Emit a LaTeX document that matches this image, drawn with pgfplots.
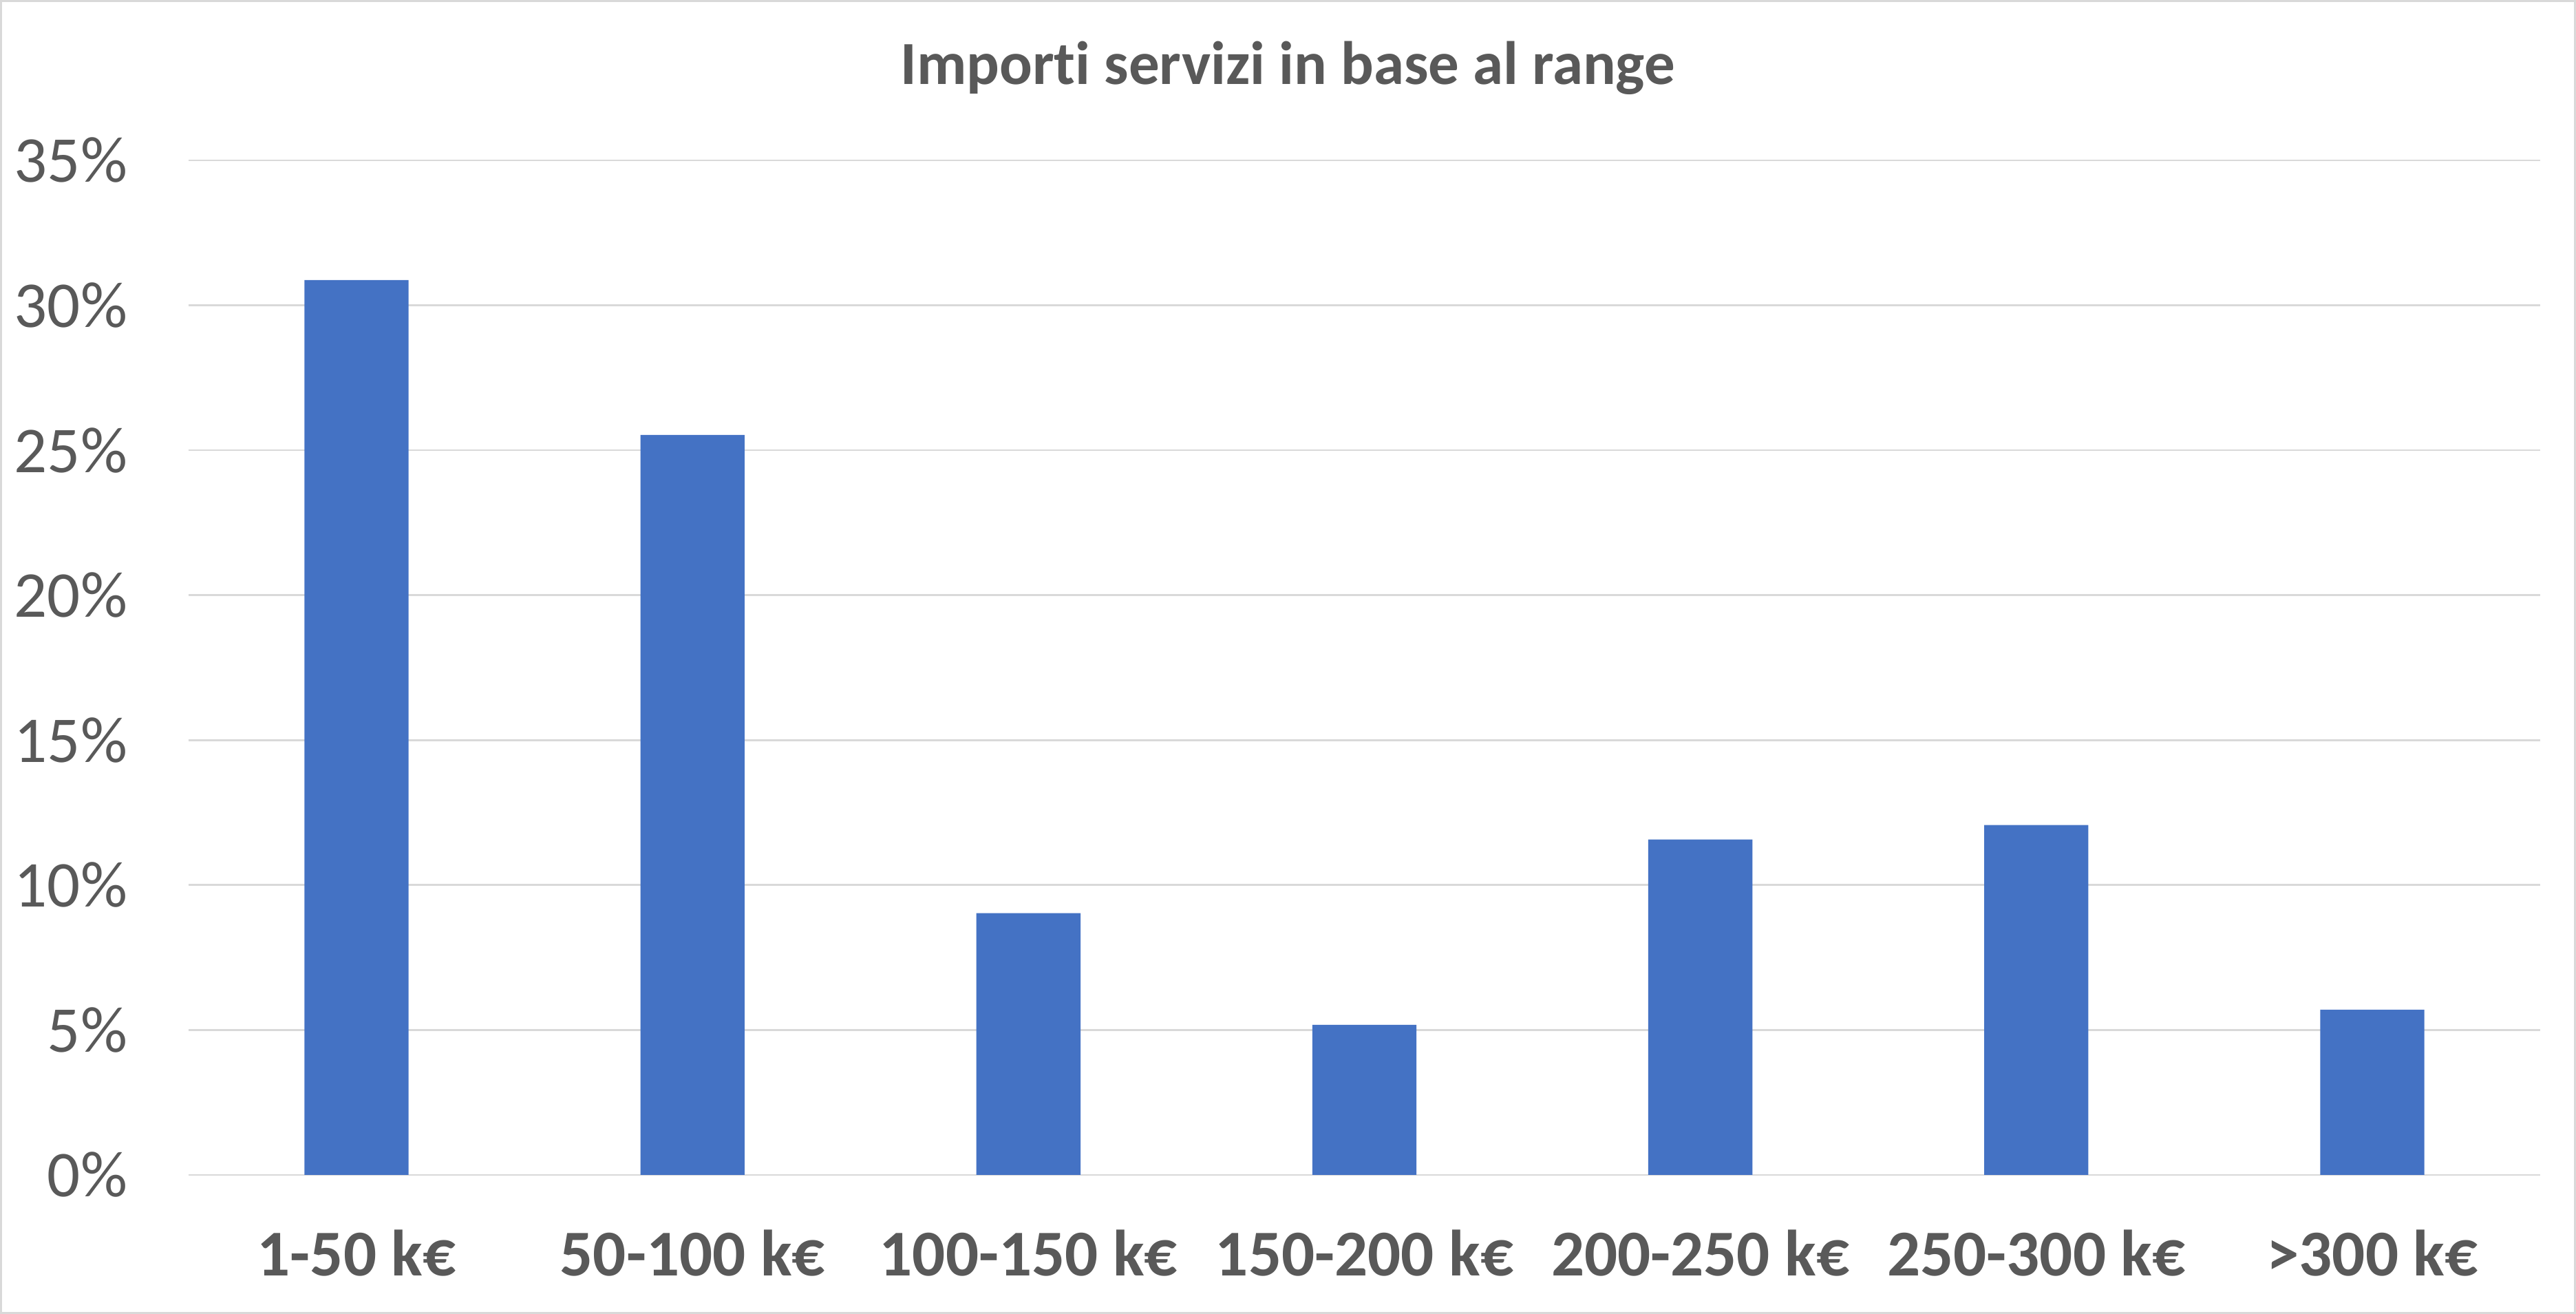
\documentclass[border=0pt]{standalone}
\usepackage{fontspec}
\setmainfont{Carlito}[Ligatures=NoCommon]
\usepackage{pgfplots}
\pgfplotsset{compat=1.18}
\definecolor{barblue}{HTML}{4472C4}
\definecolor{txtgray}{HTML}{595959}
\definecolor{gridgray}{HTML}{D9D9D9}

\begin{document}
\begin{tikzpicture}
\useasboundingbox (-54.8pt,-40.4pt) rectangle (693.8pt,341.4pt);
\draw[gridgray, line width=0.6pt] (-54.5pt,-40.1pt) rectangle (693.5pt,341.1pt);
\node[anchor=base, text=txtgray, font=\fontsize{17.8}{20}\selectfont\bfseries]
  at (319.4pt,316.8pt) {Importi servizi in base al range};
\begin{axis}[
    at={(0pt,0pt)}, anchor=south west,
    scale only axis,
    width=683.4pt, height=294.8pt,
    xmin=-0.5, xmax=6.5,
    ymin=0, ymax=35,
    xtick={0,...,6},
    xticklabels={1-50 k€,50-100 k€,100-150 k€,150-200 k€,200-250 k€,250-300 k€,>300 k€},
    ytick={0,5,...,35},
    yticklabels={0\%,5\%,10\%,15\%,20\%,25\%,30\%,35\%},
    major tick length=0pt,
    axis line style={draw=none},
    ymajorgrids=true,
    grid style={gridgray, line width=0.55pt},
    xticklabel style={anchor=base, inner sep=0pt, yshift=-29.4pt, text=txtgray,
        font=\fontsize{19}{22}\selectfont\bfseries},
    yticklabel style={anchor=east, inner sep=0pt, xshift=-17.6pt, text=txtgray,
        font=\fontsize{19}{22}\selectfont},
    ybar, bar width=0.31,
    clip=false,
]
\addplot[fill=barblue, draw=none] coordinates {
    (0,30.87) (1,25.53) (2,9.03) (3,5.18) (4,11.57) (5,12.07) (6,5.70)
};
\end{axis}
\end{tikzpicture}
\end{document}
